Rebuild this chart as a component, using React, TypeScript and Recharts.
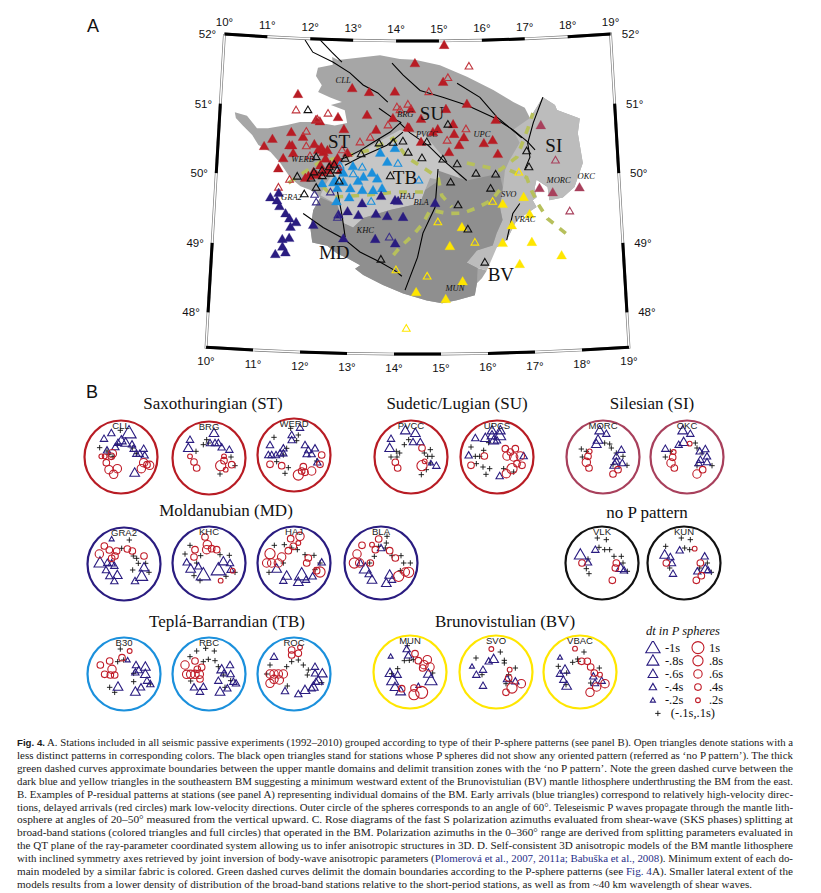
import * as React from "react";
import { ReferenceDot, Scatter, ScatterChart, XAxis, YAxis } from "recharts";

type LL = [number, number];
type Mark = [number, number, number];
type XY = [number, number];

// map ticks
const lonTicks = [10, 11, 12, 13, 14, 15, 16, 17, 18, 19];
const latTicks = [52, 51, 50, 49, 48];

// domains, [lon, lat]
const massifOutline: LL[] = [[12.52,51.75],[12.54,51.64],[12.2,51.59],[12.16,51.47],[12.3,51.34],[12.22,51.24],[12.5,51.17],[12.77,51.11],[12.52,51.06],[12.84,50.99],[12.9,50.81],[12.62,50.77],[12.17,50.81],[11.83,50.8],[11.54,50.75],[11.11,50.69],[10.86,50.68],[10.62,50.85],[10.34,50.89],[10.37,50.81],[10.53,50.71],[10.76,50.58],[10.91,50.44],[11.19,50.35],[11.42,50.2],[11.66,49.99],[11.89,49.88],[12.11,49.83],[12.34,49.73],[12.19,49.54],[12.14,49.28],[12.19,49.08],[12.52,49.04],[12.74,48.93],[12.96,48.87],[13.25,48.77],[13.14,48.72],[13.32,48.63],[13.75,48.49],[14.19,48.37],[14.7,48.27],[15.03,48.23],[15.35,48.27],[15.74,48.34],[15.79,48.51],[15.9,48.58],[16.01,48.69],[15.81,48.73],[15.58,48.81],[15.86,48.98],[16.24,49.02],[16.46,49.12],[16.69,49.4],[17.14,49.58],[17.06,49.68],[17.15,49.72],[17.11,49.85],[17.16,49.97],[17.4,49.86],[17.43,49.67],[17.73,49.7],[18.0,49.84],[18.21,50.18],[18.13,50.61],[18.19,50.82],[17.68,50.96],[17.64,51.03],[17.37,51.15],[17.06,50.86],[16.95,51.01],[16.69,51.1],[16.24,51.28],[15.64,51.48],[15.02,51.65],[14.44,51.73],[14.09,51.74],[13.63,51.79],[12.66,51.71]];
const silesianOutline: LL[] = [[17.06,50.86],[16.67,50.7],[16.81,50.51],[16.57,50.27],[16.46,50.12],[16.4,49.84],[16.33,49.59],[16.38,49.41],[16.24,49.22],[16.15,49.05],[15.8,48.98],[15.58,48.81],[15.81,48.73],[16.01,48.69],[16.24,49.02],[16.46,49.12],[16.69,49.4],[17.14,49.58],[17.06,49.68],[17.15,49.72],[17.11,49.85],[17.16,49.97],[17.4,49.86],[17.43,49.67],[17.73,49.7],[18.0,49.84],[18.21,50.18],[18.13,50.61],[18.19,50.82],[17.68,50.96],[17.64,51.03],[17.37,51.15]];
const barrandianOutline: LL[] = [[12.98,50.32],[14.1,50.72],[14.67,50.65],[15.51,49.99],[15,50],[14.78,50.03],[14.67,49.86],[14.56,49.67],[13.89,49.57],[13.3,49.45],[13.08,49.31],[12.86,49.37],[12.72,49.63],[12.34,49.76],[12.44,49.91],[12.65,50.13]];
const moldanubianOutline: LL[] = [[12.34,49.73],[12.19,49.54],[12.14,49.28],[12.19,49.08],[12.52,49.04],[12.74,48.93],[12.96,48.87],[13.25,48.77],[13.14,48.72],[13.32,48.63],[13.75,48.49],[14.19,48.37],[14.7,48.27],[15.03,48.23],[15.35,48.27],[15.74,48.34],[15.79,48.51],[15.81,48.73],[15.58,48.81],[15.8,48.98],[16.15,49.05],[16.24,49.22],[16.38,49.41],[16.33,49.59],[16.4,49.88],[16.34,50.08],[15.6,49.99],[14.96,50.14],[15,50],[14.67,49.86],[14.56,49.67],[13.89,49.57],[13.3,49.45],[13.08,49.31],[12.86,49.37],[12.72,49.63]];

// faults
const faults: LL[][] = [
  [[11.88,51.98],[12.07,51.81],[12.54,51.68],[12.94,51.53],[13.25,51.36],[13.59,51.25],[13.82,51.12]],
  [[12.23,51.99],[12.51,51.82],[12.75,51.68]],
  [[13.91,51.68],[14.17,51.51],[14.56,51.29],[15.08,51.19],[15.63,51.07],[16.22,50.89],[16.67,50.7],[16.99,50.52],[17.15,50.4]],
  [[15.41,51.39],[15.93,51.18],[16.31,50.89],[16.86,50.58]],
  [[17.37,51.15],[17.13,50.79],[16.99,50.5],[17.03,50.3],[16.9,50.12]],
  [[13.62,51.03],[13.94,50.89],[14.12,50.83],[13.88,50.69],[13.5,50.54],[13.21,50.42],[12.92,50.32],[12.7,50.27]],
  [[14.1,50.82],[14.33,50.68],[14.74,50.5],[15.07,50.29],[15.6,49.99]],
  [[14.17,50.69],[13.81,50.5],[13.21,50.32],[12.87,50.2]],
  [[12.71,49.84],[12.83,49.48],[12.91,49.17]],
  [[11.97,49.49],[12.42,49.3],[12.87,49.15],[13.24,48.96],[13.68,48.82],[14.01,48.7],[14.16,48.62]],
  [[14.96,50.16],[14.89,49.61],[14.62,49.24],[14.5,48.89],[14.23,48.42]],
  [[16.77,49.64],[16.61,49.5],[16.46,49.12]],
];

// thick green dashed curves
const transitionCurves: LL[][] = [
  [[11.62,49.92],[12.31,50.24],[12.83,50.32],[13.43,50.43],[13.95,50.6],[14.26,50.33],[14.6,50.19],[14.96,50.04],[15.04,49.78],[15.26,49.61]],
  [[15.61,50.24],[16.35,50.13],[16.74,50.31],[17.01,50.72],[17.13,50.93]],
  [[16.33,49.84],[16.15,49.7],[15.84,49.6],[15.5,49.52],[15.17,49.52],[14.78,49.57],[14.62,49.38],[14.4,49.21],[14.12,49.04],[13.97,48.92]],
  [[16.57,50.12],[16.94,50.01],[17.04,49.82],[17.17,49.63],[17.37,49.41],[17.63,49.26],[17.87,49.12]],
  [[12.4,49.88],[12.63,49.74],[13.38,49.78],[14.04,49.83],[14.71,49.83]],
];

// stations
const redFilled: LL[] = [[11.76,51.2],[13.0,51.31],[13.39,51.26],[13.98,51.27],[14.44,51.68],[12.69,50.89],[13.35,50.93],[13.94,50.89],[12.28,50.82],[12.19,50.84],[12.83,50.72],[14.28,50.76],[11.22,50.54],[11.64,50.65],[11.91,50.59],[11.04,50.43],[11.67,50.46],[11.61,50.46],[12.17,50.49],[12.33,50.45],[11.7,50.35],[11.48,50.27],[11.38,50.12],[12.38,50.38],[12.47,50.41],[12.26,50.41],[12.7,50.3],[12.92,50.38],[13.56,50.72],[11.99,50.0],[12.43,50.29],[12.54,50.2],[12.32,50.19],[12.17,50.09],[12.06,50.03],[12.24,50.05],[12.5,50.12],[12.65,50.24],[12.37,50.09],[12.77,50.13],[15.12,51.94],[15.09,51.41],[14.35,51.02],[15.15,51.02],[14.58,50.88],[15.63,51.09],[16.28,50.85],[14.31,50.75],[15.31,50.8],[14.96,50.73],[14.85,50.69],[15.33,50.66],[15.55,50.61],[14.58,50.55],[15.44,50.5],[16.0,50.52],[16.2,50.56],[15.21,50.4],[16.31,50.36]];
const redOpen: LL[] = [[11.73,50.97],[12.46,50.94],[12.22,50.85],[11.98,50.67],[11.99,50.46],[14.03,51.05],[14.1,51.01],[14.28,51.09],[13.83,50.79],[13.2,50.54],[13.43,50.61],[12.8,50.42],[12.08,50.32],[11.64,49.97],[11.4,49.85],[15.69,51.63],[15.2,51.47],[14.76,51.27],[15.6,50.73],[15.17,50.57]];
const silesianFilled: LL[] = [[17.3,50.75],[17.22,49.85],[17.51,49.78],[18.11,49.83]];
const silesianOpen: LL[] = [[17.6,50.24],[17.87,49.5]];
const blackOpen: LL[] = [[12.0,50.98],[12.22,50.31],[12.87,50.3],[12.63,50.21],[12.52,50.17],[12.36,50.12],[12.18,50.09],[11.81,50.02],[12.12,50.0],[12.7,50.13],[12.37,50.04],[12.55,50.08],[12.24,49.87],[11.98,49.77],[12.75,49.97],[13.23,50.37],[13.63,50.53],[13.95,50.54],[14.17,50.56],[14.29,50.4],[13.89,50.06],[15.19,50.8],[14.71,50.55],[14.6,50.32],[15.07,50.3],[15.39,50.23],[15.81,50.09],[16.25,50.07],[15.24,49.97],[16.13,49.87],[16.96,50.39],[17.0,50.16],[15.4,49.64],[15.61,49.29],[15.97,48.81],[13.7,48.86]];
const blueFilled: LL[] = [[13.99,50.46],[13.66,50.39],[13.82,50.26],[13.05,50.19],[13.48,50.1],[12.84,50.09],[12.66,49.98],[13.29,50.04],[13.17,49.98],[12.84,49.96],[13.0,49.87],[13.27,49.85],[13.6,50.02],[12.37,49.93],[12.62,49.95],[13.71,49.88],[12.71,49.87],[13.51,49.85],[12.7,49.68],[12.98,49.74]];
const blueOpen: LL[] = [[12.76,50.2],[13.06,50.08],[13.26,50.18],[14.06,50.24],[14.53,50.0],[13.47,49.69]];
const navyFilled: LL[] = [[11.23,49.7],[11.38,49.66],[11.41,49.77],[11.44,49.58],[11.58,49.48],[11.67,49.41],[11.82,49.36],[11.7,49.29],[11.68,49.13],[11.53,49.11],[11.54,49.0],[11.39,48.89],[11.61,48.92],[12.2,49.33],[12.75,49.49],[12.95,49.54],[13.19,49.49],[13.27,49.66],[13.58,49.51],[13.83,49.48],[14.18,49.47],[13.69,49.77],[14,49.71],[14.07,49.7],[12.87,49.15],[13.57,49.15],[14.01,49.09],[14.89,49.67]];
const navyOpen: LL[] = [[12.21,49.77],[12.25,49.66],[12.56,49.81],[12.73,49.45],[13.88,49.18]];
const yellowFilled: LL[] = [[16.86,49.73],[16.39,49.64],[16.98,49.48],[16.58,49.33],[15.48,49.32],[15.21,49.05],[16.37,49.08],[17.01,49.08],[17.65,48.87],[16.73,48.77],[15.48,48.54],[14.47,48.39],[15.11,48.29]];
const yellowOpen: LL[] = [[16.17,49.68],[14.95,49.4],[15.76,49.1],[14.71,48.62],[14.26,47.87],[14.03,48.71],[16.77,50.09]];

const stationNames: { name: string; at: LL }[] = [
  { name: "CLL", at: [12.79, 51.38] }, { name: "BRG", at: [14.22, 50.91] }, { name: "PVCC", at: [14.71, 50.62] },
  { name: "UPC", at: [15.96, 50.61] }, { name: "WERD", at: [11.93, 50.23] }, { name: "GRA2", at: [11.7, 49.67] },
  { name: "HAJ", at: [14.27, 49.73] }, { name: "BLA", at: [14.58, 49.64] }, { name: "KHC", at: [13.35, 49.23] },
  { name: "MUN", at: [15.31, 48.4] }, { name: "SVO", at: [16.53, 49.74] }, { name: "VRAC", at: [16.87, 49.37] },
  { name: "MORC", at: [17.65, 49.91] }, { name: "OKC", at: [18.27, 49.94] },
];
const domainNames: { name: string; at: LL }[] = [
  { name: "ST", at: [12.73, 50.45] }, { name: "SU", at: [14.83, 50.86] }, { name: "TB", at: [14.22, 49.94] },
  { name: "MD", at: [12.68, 48.85] }, { name: "BV", at: [16.31, 48.53] }, { name: "SI", at: [17.57, 50.36] },
];

// P spheres: [x, y, |dt| s] on a sphere of radius 111, y downward; crosses are [x, y]
const cllTri: Mark[] = [[24,-73,1],[-29,-72,.4],[-51,-55,.4],[1,-50,.6],[14,-43,.6],[-9,-43,.4],[33,-38,.4],[-17,-30,.4],[-42,-20,.4],[38,-25,.4],[68,-25,.4],[46,-10,.4],[56,-10,.4],[71,-5,.4],[41,47,.6]];
const cllCirc: Mark[] = [[-59,-2,.2],[-49,-2,.2],[-26,-10,.6],[-29,-2,.4],[-44,17,.4],[-36,38,.6],[-11,35,.6],[-22,52,.6],[61,35,.6],[68,17,.6],[86,25,.6],[78,23,.4]];
const cllPlus: XY[] = [[-64,-28],[-2,-80],[-42,-18],[-11,-37],[34,-27],[-24,-2],[46,-10],[-36,-8]];
const brgTri: Mark[] = [[15,-75,.6],[-57,-55,.4],[-62,-30,.6],[3,-45,.4],[18,-45,.4],[28,-45,.4],[38,-32,.4],[61,-25,.4]];
const brgCirc: Mark[] = [[-57,-5,.2],[-45,12,.4],[-37,30,.4],[45,-5,.2],[45,8,.4],[35,23,.8],[68,20,.4],[50,35,.2]];
const brgPlus: XY[] = [[-7,-55],[-2,-45],[-17,-40],[-39,-20],[66,-3],[78,23],[33,48]];
const werdTri: Mark[] = [[18,-82,.4],[-72,-30,.4],[-7,-60,.4],[-7,-45,.4],[-32,-20,.4],[-42,-5,.4],[-77,0,.4],[-67,0,.4],[-54,0,.4],[-32,-5,.4],[33,-30,.4],[43,-15,.4],[63,-20,.4],[53,-3,.4],[38,-3,.4],[70,22,.4]];
const werdCirc: Mark[] = [[83,0,.4],[-72,28,.4],[-37,32,.4],[28,35,.4],[53,48,.6],[33,52,.4],[13,60,.8],[23,48,.4],[78,28,.4]];
const werdPlus: XY[] = [[-60,-53],[-10,-80],[13,-60],[-22,-20],[8,-43],[-52,20],[-17,38],[-27,55],[68,18],[-32,0]];
const pvccTri: Mark[] = [[-17,-80,.6],[13,-72,.6],[-60,-55,.4],[-64,-27,.6],[6,-45,.4],[28,-45,.4],[60,18,.2],[76,26,.4]];
const pvccCirc: Mark[] = [[33,-27,.4],[-47,16,.4],[-40,33,.4],[33,26,.8],[41,13,.2]];
const pvccPlus: XY[] = [[-7,-52],[-20,-37],[-44,-17],[-34,-12],[-60,0],[-42,0],[40,-12],[58,-22],[50,-2],[63,-2],[58,18],[46,38],[31,53]];
const upcsTri: Mark[] = [[-15,-80,.6],[10,-80,.6],[-65,-57,.4],[-35,-57,.6],[8,-65,.8],[-15,-65,.6],[-10,-50,.6],[-85,-5,.4],[80,-3,.4],[8,57,.4],[0,-50,.4]];
const upcsCirc: Mark[] = [[25,-25,.4],[55,-25,.4],[40,-15,.4],[30,-3,.6],[50,0,.6],[70,-3,.6],[-38,-3,.4],[-78,25,.4],[60,20,.4],[75,25,.4],[45,35,.8],[28,50,.6]];
const upcsPlus: XY[] = [[-78,-30],[-25,-43],[-40,-20],[-65,-2],[-52,-2],[-62,20],[-42,30],[-22,35],[-33,52],[20,35],[50,45]];
const morcTri: Mark[] = [[-10,-80,.6],[10,-70,.4],[-15,-52,.6],[-20,-39,.6],[55,-22,.4],[40,-2,.4],[40,13,.4],[35,23,.6],[58,18,.4]];
const morcCirc: Mark[] = [[-40,-17,.2],[-45,-2,.4],[-50,16,.6],[-42,33,.4],[45,38,.4],[30,51,.4]];
const morcPlus: XY[] = [[-65,-24],[-50,-17],[-62,0],[5,-42],[20,-39],[25,-27],[40,-12],[60,-2],[30,23],[72,25]];
const okcTri: Mark[] = [[-13,-80,.6],[10,-70,.4],[-65,-25,.4],[-10,-45,.6],[-25,-37,.4],[55,-24,.4],[38,-17,.4],[60,-2,.4],[40,8,.4],[60,15,.4],[35,18,.4]];
const okcCirc: Mark[] = [[8,-40,.2],[-40,-15,.2],[-43,1,.4],[-48,18,.6],[-38,33,.4],[47,38,.4],[30,51,.6]];
const okcPlus: XY[] = [[-65,0],[-50,-17],[25,-42],[30,-27],[45,-12],[30,26],[75,26]];
const gra2Tri: Mark[] = [[-37,-75,.2],[-72,-4,.8],[-50,-4,.4],[-37,-2,.4],[-29,5,.4],[-54,18,.4],[-44,36,.4],[-20,33,.6],[-29,51,.4],[33,51,.4],[53,36,.8],[60,10,.6]];
const gra2Circ: Mark[] = [[-59,-54,.4],[-44,-42,.4],[-74,-30,.6],[-22,-39,.4],[10,-45,.4],[25,-39,.4],[-27,-24,.4],[-37,-17,.4],[60,-24,.4]];
const gra2Plus: XY[] = [[16,-72],[-7,-47],[28,-24],[38,-17],[43,-2],[65,-2],[26,18],[75,25]];
const khcTri: Mark[] = [[-17,35,1],[28,20,1],[-67,-2,.4],[-55,17,.6],[-32,10,.4],[43,-5,.6],[63,0,.4],[65,20,.4]];
const khcCirc: Mark[] = [[-12,-78,.4],[-42,-40,.4],[-5,-55,.6],[-7,-40,.6],[8,-43,.4],[23,-40,.4],[-45,-18,.4],[71,23,.2],[35,53,.2]];
const khcPlus: XY[] = [[-57,-53],[-72,-27],[-25,-22],[-37,0],[33,-25],[61,-23],[-45,38],[-27,53],[51,40],[78,28]];
const hajTri: Mark[] = [[-52,17,.6],[-22,38,.6],[-32,53,.4],[23,35,1],[13,57,.6],[36,50,.4],[56,40,.4],[83,-2,.4]];
const hajCirc: Mark[] = [[18,-80,.6],[-10,-73,.4],[13,-60,.2],[-17,-37,.4],[-37,-18,.6],[-72,-28,.8],[-82,0,.6],[-67,0,.6],[-47,0,.6],[-2,-50,.4],[43,-15,.4],[38,0,.4],[78,27,.8],[68,23,.4]];
const hajPlus: XY[] = [[-59,-53],[-29,-55],[-7,-45],[10,-40],[33,-25],[60,-23],[-32,0],[-75,28],[63,20],[78,0]];
const blaTri: Mark[] = [[-47,17,.8],[-62,0,.4],[-27,50,.6],[16,60,.6],[26,35,.6],[33,50,.4],[0,-45,.4],[-37,33,.4]];
const blaCirc: Mark[] = [[-7,-72,.4],[-57,-53,.4],[-27,-55,.2],[-17,-40,.4],[26,-37,.4],[-72,-27,.6],[-80,0,.8],[-64,0,.6],[-32,0,.4],[43,-15,.4],[53,40,.8],[83,28,.8],[73,27,.6]];
const blaPlus: XY[] = [[18,-80],[16,-60],[-7,-50],[13,-45],[-20,-20],[-34,0],[33,-22],[60,-22],[68,0],[88,0],[58,23]];
const vlkTri: Mark[] = [[-65,-25,.8],[-20,-40,.4],[-42,-2,.4],[56,15,.6],[66,22,.4]];
const vlkCirc: Mark[] = [[-60,0,.4],[43,0,.4],[40,15,.4],[31,52,.4]];
const vlkPlus: XY[] = [[13,-70],[-14,-75],[-9,-47],[8,-40],[23,-40],[36,-20],[58,-20],[63,0],[76,25],[-42,-12],[-47,17],[-39,32]];
const kunTri: Mark[] = [[-58,-25,.6],[-41,-18,.4],[-36,0,.4],[-33,32,.4],[-13,-38,.4],[62,-20,.4],[64,18,.6],[40,25,.4],[72,22,.4]];
const kunCirc: Mark[] = [[32,-43,.2],[-53,0,.4],[49,0,.4],[52,38,.4],[37,52,.4]];
const kunPlus: XY[] = [[-55,-50],[19,-70],[-8,-75],[2,-45],[17,-40],[70,0],[82,28],[-43,15],[47,15]];
const b30Tri: Mark[] = [[64,-22,.6],[11,-42,.2],[36,-27,.4],[44,-12,.4],[34,-5,.4],[64,0,.6],[69,20,.4],[79,30,.4],[-18,38,.6],[51,40,.4],[34,53,.6]];
const b30Circ: Mark[] = [[17,-69,.2],[-6,-49,.4],[-43,-39,.4],[-71,-27,.4],[-36,-14,.6],[-58,1,.4],[-41,3,.4],[-28,3,.4]];
const b30Plus: XY[] = [[-11,-75],[-19,-37],[-1,-42],[29,-2],[29,23],[-43,40],[-28,55],[79,30]];
const rbcTri: Mark[] = [[63,-27,.4],[38,-14,.6],[45,-2,.4],[65,0,.4],[28,20,.4],[-45,40,.4],[-17,38,.4],[-27,53,.4],[33,53,.6],[55,43,.4],[73,23,.4],[81,28,.4]];
const rbcCirc: Mark[] = [[-72,-27,.6],[-42,-39,.4],[-67,1,.6],[-55,1,.6],[-42,1,.6],[-29,1,.6],[-22,-20,.4],[-35,-14,.4],[-27,15,.4]];
const rbcPlus: XY[] = [[-37,-69],[-10,-77],[16,-69],[-57,-52],[-17,-37],[-2,-44],[18,-40],[28,-22],[43,3],[-55,21],[65,20],[48,40]];
const rocTri: Mark[] = [[-60,-52,.4],[63,-22,.4],[85,-2,.6],[63,-2,.4],[73,20,.6],[58,38,.6],[33,48,.6],[13,60,.4],[-27,51,.4],[53,43,.4],[66,23,.4]];
const rocCirc: Mark[] = [[-7,-72,.4],[18,-80,.2],[-7,-57,.4],[13,-62,.4],[-72,0,.6],[-60,0,.6],[-47,0,.6],[-32,0,.6],[-60,16,.6],[-44,18,.6],[-72,28,.6]];
const rocPlus: XY[] = [[-72,-27],[-22,-22],[-7,-37],[13,-42],[28,-27],[43,-12],[40,3],[83,26],[-20,36],[-82,0]];
const munTri: Mark[] = [[-58,-47,.2],[-10,-69,.4],[-5,-50,.4],[-60,3,.6],[-37,8,.4],[-52,25,.8],[-45,45,.6],[-28,58,.6],[25,41,.2],[63,25,.8],[55,5,.6]];
const munCirc: Mark[] = [[15,-55,.4],[25,-34,.4],[52,-37,.6],[42,-22,.6],[60,-15,.6],[38,-12,.4],[-25,50,.4],[12,48,.4],[12,68,.8],[35,61,1]];
const munPlus: XY[] = [[-8,-79],[-17,-34],[-2,-35],[10,-37],[-37,-10],[-55,5],[68,3]];
const svoTri: Mark[] = [[-22,-32,.4],[-7,-39,.6],[-72,-17,.2],[-39,-7,.4],[-59,8,.4],[-39,41,.4],[58,28,.4],[33,21,.4]];
const svoCirc: Mark[] = [[-14,-69,.2],[41,-7,.2],[38,18,.4],[76,35,.6],[48,48,.8],[30,61,.4]];
const svoPlus: XY[] = [[13,-60],[-60,-42],[25,-35],[58,-12],[25,-27],[38,8],[-42,8],[41,28],[30,35]];
const vbacTri: Mark[] = [[-60,-44,.2],[-45,-7,.6],[-60,5,.4],[-50,23,.4],[-40,41,.6],[40,13,.4],[45,33,.4],[65,26,.4]];
const vbacCirc: Mark[] = [[-15,-70,.2],[5,-32,.4],[22,-32,.4],[32,-15,.4],[43,3,.4],[60,8,.2],[75,35,.6],[50,45,.6],[30,61,.6]];
const vbacPlus: XY[] = [[12,-60],[-65,-17],[-7,-39],[-22,-29],[-5,-32],[58,-12],[-40,3],[-42,38],[32,33]];

const legendDt = [1, 0.8, 0.6, 0.4, 0.2];
const legendTriLabels = ["-1s", "-.8s", "-.6s", "-.4s", "-.2s"];
const legendCircLabels = ["1s", ".8s", ".6s", ".4s", ".2s"];

const captionLines = [
  "Stations included in all seismic passive experiments (1992–2010) grouped according to type of their P-sphere patterns (see panel B). Open triangles denote stations with a",
  "less distinct patterns in corresponding colors. The black open triangles stand for stations whose P spheres did not show any oriented pattern (referred as ‘no P pattern’). The thick",
  "green dashed curves approximate boundaries between the upper mantle domains and delimit transition zones with the ‘no P pattern’. Note the green dashed curve between the",
  "dark blue and yellow triangles in the southeastern BM suggesting a minimum westward extent of the Brunovistulian (BV) mantle lithosphere underthrusting the BM from the east.",
  "B. Examples of P-residual patterns at stations (see panel A) representing individual domains of the BM. Early arrivals (blue triangles) correspond to relatively high-velocity direc-",
  "tions, delayed arrivals (red circles) mark low-velocity directions. Outer circle of the spheres corresponds to an angle of 60°. Teleseismic P waves propagate through the mantle lith-",
  "osphere at angles of 20–50° measured from the vertical upward. C. Rose diagrams of the fast S polarization azimuths evaluated from shear-wave (SKS phases) splitting at",
  "broad-band stations (colored triangles and full circles) that operated in the BM. Polarization azimuths in the 0–360° range are derived from splitting parameters evaluated in",
  "the QT plane of the ray-parameter coordinated system allowing us to infer anisotropic structures in 3D. D. Self-consistent 3D anisotropic models of the BM mantle lithosphere",
];

const RED = "#b81c24", PLUM = "#a8405c", NAVY = "#2a1c80", BLUE = "#1b90dc", YELLOW = "#ffe600", BLACK = "#111111";
const SANS = "'Liberation Sans', sans-serif";
const SERIF = "'Liberation Serif', serif";

// conic-looking projection of the map, fitted to the graticule
const project = ([lon, lat]: LL) => {
  const d = lon - 14.5;
  const s = 52 - lat;
  return { x: 417.5 + d * (42.9 + 0.91 * s), y: 41 + s * 69.6 - 0.346 * d * d };
};

const none = () => <g />;

const triangle = (cx: number, cy: number, w: number) =>
  `M${cx},${cy - w * 0.55}L${cx + w * 0.55},${cy + w * 0.4}L${cx - w * 0.55},${cy + w * 0.4}Z`;

const mapLine = (pts: LL[], key: string, style: any) => (
  <Scatter key={key} data={pts.map(project)} isAnimationActive={false} shape={none} line={style} />
);

const stationScatter = (pts: LL[], key: string, color: string, open: boolean) => (
  <Scatter
    key={key}
    data={pts.map(project)}
    isAnimationActive={false}
    shape={(p: any) => (
      <path
        d={triangle(p.cx, p.cy, open ? 7 : 9)}
        fill={open ? "none" : color}
        stroke={color}
        strokeWidth={open ? 1.1 : 0.3}
      />
    )}
  />
);

const textScatter = (items: { name: string; at: LL }[], key: string, style: any) => (
  <Scatter
    key={key}
    data={items.map((it) => ({ ...project(it.at), name: it.name }))}
    isAnimationActive={false}
    shape={(p: any) => (
      <text x={p.cx} y={p.cy} textAnchor="middle" {...style}>
        {p.payload.name}
      </text>
    )}
  />
);

const tickScatter = (pts: LL[], dx: number, dy: number, key: string) => (
  <Scatter
    key={key}
    data={pts.map((pt) => ({ ...project(pt), name: pt }))}
    isAnimationActive={false}
    shape={(p: any) => {
      const [lon, lat] = p.payload.name;
      const label = dx === 0 ? lon : lat;
      return (
        <text x={p.cx + dx} y={p.cy + dy} textAnchor="middle" fontFamily={SANS} fontSize={11.5} fill="#111">
          {label}°
        </text>
      );
    }}
  />
);

const segments = (ticks: number[], fixed: number, isLon: boolean, first: number) =>
  ticks.slice(0, -1).flatMap((t, i) =>
    i % 2 === first ? [isLon ? ([[t, fixed], [ticks[i + 1], fixed]] as LL[]) : ([[fixed, t], [fixed, ticks[i + 1]]] as LL[])] : []
  );

function MapChart() {
  const frame: LL[] = [
    ...lonTicks.map((l) => [l, 52] as LL),
    ...[51, 50, 49, 48, 47.5].map((l) => [19, l] as LL),
    ...[...lonTicks].reverse().map((l) => [l, 47.5] as LL),
    ...[48, 49, 50, 51, 52].map((l) => [10, l] as LL),
  ];
  const blackEdges = [
    ...segments(lonTicks, 52, true, 0),
    ...segments(lonTicks, 47.5, true, 0),
    ...segments(latTicks, 10, false, 1),
    ...segments(latTicks, 19, false, 1),
  ];
  return (
    <ScatterChart width={821} height={400} margin={{ top: 0, right: 0, bottom: 0, left: 0 }}>
      <XAxis type="number" dataKey="x" domain={[0, 821]} hide />
      <YAxis type="number" dataKey="y" domain={[0, 400]} reversed hide />
      {mapLine(massifOutline, "massif", { fill: "#a6a6a6", stroke: "none" })}
      {mapLine(silesianOutline, "si", { fill: "#bcbcbc", stroke: "none" })}
      {mapLine(barrandianOutline, "tb", { fill: "#c6c6c6", stroke: "none" })}
      {mapLine(moldanubianOutline, "md", { fill: "#8f8f8f", stroke: "none" })}
      {transitionCurves.map((c, i) =>
        mapLine(c, "curve" + i, { stroke: "#b7c05c", strokeWidth: 3.6, strokeDasharray: "8 8", fill: "none" })
      )}
      {faults.map((f, i) => mapLine(f, "fault" + i, { stroke: "#000", strokeWidth: 1.1, fill: "none" }))}
      {mapLine(frame, "frameOuter", { stroke: "#777", strokeWidth: 2.8, fill: "none" })}
      {mapLine(frame, "frameInner", { stroke: "#fff", strokeWidth: 1.5, fill: "none" })}
      {blackEdges.map((e, i) => mapLine(e, "edge" + i, { stroke: "#000", strokeWidth: 3, fill: "none" }))}
      {stationScatter(redFilled, "rf", RED, false)}
      {stationScatter(redOpen, "ro", "#c0353c", true)}
      {stationScatter(silesianFilled, "sf", PLUM, false)}
      {stationScatter(silesianOpen, "so", PLUM, true)}
      {stationScatter(blueFilled, "bf", BLUE, false)}
      {stationScatter(blueOpen, "bo", BLUE, true)}
      {stationScatter(navyFilled, "nf", NAVY, false)}
      {stationScatter(navyOpen, "no", "#3a2f88", true)}
      {stationScatter(yellowFilled, "yf", YELLOW, false)}
      {stationScatter(yellowOpen, "yo", YELLOW, true)}
      {stationScatter(blackOpen, "ko", BLACK, true)}
      {textScatter(stationNames, "names", { fontFamily: SERIF, fontStyle: "italic", fontSize: 8.5, fill: "#111" })}
      {textScatter(domainNames, "domains", { fontFamily: SERIF, fontSize: 19, fill: "#111" })}
      {tickScatter(lonTicks.map((l) => [l, 52] as LL), 0, -8, "topTicks")}
      {tickScatter(lonTicks.map((l) => [l, 47.5] as LL), 0, 18, "bottomTicks")}
      {tickScatter(latTicks.map((l) => [10, l] as LL), -17, 4, "leftTicks")}
      {tickScatter(latTicks.map((l) => [19, l] as LL), 20, 4, "rightTicks")}
    </ScatterChart>
  );
}

const triWidth = (dt: number) => 2.5 + 10.5 * dt;
const circR = (dt: number) => 1.5 + 4.5 * dt;

const triShape = (p: any) => (
  <path d={triangle(p.cx, p.cy, triWidth(p.payload.dt))} fill="none" stroke={NAVY} strokeWidth={1.1} />
);
const circShape = (p: any) => <circle cx={p.cx} cy={p.cy} r={circR(p.payload.dt)} fill="none" stroke="#c01c28" strokeWidth={1.1} />;
const plusShape = (p: any) => (
  <path d={`M${p.cx - 2.7},${p.cy}H${p.cx + 2.7}M${p.cx},${p.cy - 2.7}V${p.cy + 2.7}`} stroke="#111" strokeWidth={0.9} />
);

const toDt = (rows: Mark[]) => rows.map(([x, y, dt]) => ({ x, y, dt }));

function Sphere({ name, color, left, top, tri, circ, plus }: any) {
  return (
    <div style={{ position: "absolute", left: left - 40, top: top - 40 }}>
      <ScatterChart width={80} height={80} margin={{ top: 0, right: 0, bottom: 0, left: 0 }}>
        <XAxis type="number" dataKey="x" domain={[-120, 120]} hide />
        <YAxis type="number" dataKey="y" domain={[-120, 120]} reversed hide />
        <ReferenceDot x={0} y={0} r={36.5} fill="#fff" stroke={color} strokeWidth={2.2} />
        <Scatter data={plus.map(([x, y]: XY) => ({ x, y }))} isAnimationActive={false} shape={plusShape} />
        <Scatter data={toDt(tri)} isAnimationActive={false} shape={triShape} />
        <Scatter data={toDt(circ)} isAnimationActive={false} shape={circShape} />
        <Scatter
          data={[{ x: 0, y: -96 }]}
          isAnimationActive={false}
          shape={(p: any) => (
            <text x={p.cx} y={p.cy + 3.5} textAnchor="middle" fontFamily={SANS} fontSize={9.5} fill="#222">
              {name}
            </text>
          )}
        />
      </ScatterChart>
    </div>
  );
}

const spheres = [
  { name: "CLL", color: RED, left: 121, top: 457, tri: cllTri, circ: cllCirc, plus: cllPlus },
  { name: "BRG", color: RED, left: 209, top: 458, tri: brgTri, circ: brgCirc, plus: brgPlus },
  { name: "WERD", color: RED, left: 294, top: 455, tri: werdTri, circ: werdCirc, plus: werdPlus },
  { name: "PVCC", color: RED, left: 411, top: 457, tri: pvccTri, circ: pvccCirc, plus: pvccPlus },
  { name: "UPCS", color: RED, left: 497, top: 457, tri: upcsTri, circ: upcsCirc, plus: upcsPlus },
  { name: "MORC", color: PLUM, left: 603, top: 457, tri: morcTri, circ: morcCirc, plus: morcPlus },
  { name: "OKC", color: PLUM, left: 687, top: 457, tri: okcTri, circ: okcCirc, plus: okcPlus },
  { name: "GRA2", color: NAVY, left: 124, top: 564, tri: gra2Tri, circ: gra2Circ, plus: gra2Plus },
  { name: "KHC", color: NAVY, left: 209, top: 563, tri: khcTri, circ: khcCirc, plus: khcPlus },
  { name: "HAJ", color: NAVY, left: 294, top: 563, tri: hajTri, circ: hajCirc, plus: hajPlus },
  { name: "BLA", color: NAVY, left: 381, top: 563, tri: blaTri, circ: blaCirc, plus: blaPlus },
  { name: "VLK", color: BLACK, left: 602, top: 563, tri: vlkTri, circ: vlkCirc, plus: vlkPlus },
  { name: "KUN", color: BLACK, left: 684, top: 563, tri: kunTri, circ: kunCirc, plus: kunPlus },
  { name: "B30", color: BLUE, left: 124, top: 674, tri: b30Tri, circ: b30Circ, plus: b30Plus },
  { name: "RBC", color: BLUE, left: 209, top: 674, tri: rbcTri, circ: rbcCirc, plus: rbcPlus },
  { name: "ROC", color: BLUE, left: 294, top: 674, tri: rocTri, circ: rocCirc, plus: rocPlus },
  { name: "MUN", color: YELLOW, left: 410, top: 672, tri: munTri, circ: munCirc, plus: munPlus },
  { name: "SVO", color: YELLOW, left: 496, top: 672, tri: svoTri, circ: svoCirc, plus: svoPlus },
  { name: "VBAC", color: YELLOW, left: 580, top: 672, tri: vbacTri, circ: vbacCirc, plus: vbacPlus },
];

const titles = [
  { text: "Saxothuringian (ST)", x: 213, y: 409 },
  { text: "Sudetic/Lugian (SU)", x: 457, y: 409 },
  { text: "Silesian (SI)", x: 652, y: 409 },
  { text: "Moldanubian (MD)", x: 226, y: 516 },
  { text: "no P pattern", x: 647, y: 518 },
  { text: "Teplá-Barrandian (TB)", x: 227, y: 627 },
  { text: "Brunovistulian (BV)", x: 505, y: 627 },
];

function LegendChart() {
  const triRows = legendDt.map((dt, i) => ({ x: 0, y: i, dt, label: legendTriLabels[i] }));
  const circRows = legendDt.map((dt, i) => ({ x: 1, y: i, dt, label: legendCircLabels[i] }));
  const label = (p: any, dx: number, text: string) => (
    <text x={p.cx + dx} y={p.cy + 4} fontFamily={SERIF} fontSize={12.5} fill="#111">
      {text}
    </text>
  );
  return (
    <ScatterChart width={100} height={79} margin={{ top: 0, right: 0, bottom: 0, left: 0 }}>
      <XAxis type="number" dataKey="x" domain={[-0.22, 2]} hide />
      <YAxis type="number" dataKey="y" domain={[-0.5, 5.5]} reversed hide />
      <Scatter
        data={triRows}
        isAnimationActive={false}
        shape={(p: any) => (
          <g>
            {triShape(p)}
            {label(p, 12, p.payload.label)}
          </g>
        )}
      />
      <Scatter
        data={circRows}
        isAnimationActive={false}
        shape={(p: any) => (
          <g>
            {circShape(p)}
            {label(p, 11, p.payload.label)}
          </g>
        )}
      />
      <Scatter
        data={[{ x: 0.11, y: 5, dt: 0 }]}
        isAnimationActive={false}
        shape={(p: any) => (
          <g>
            {plusShape(p)}
            {label(p, 13, "(-.1s,.1s)")}
          </g>
        )}
      />
    </ScatterChart>
  );
}

function Caption() {
  const capStyle = { fontFamily: SERIF, fontSize: 10.9, fill: "#1a1a1a" };
  const width = 776;
  return (
    <g style={capStyle as any}>
      <text x={17} y={746} textLength={width} lengthAdjust="spacingAndGlyphs">
        <tspan fontWeight={700} fontFamily={SANS} fontSize={9.8}>Fig. 4.</tspan> A. {captionLines[0]}
      </text>
      {captionLines.slice(1).map((line, i) => (
        <text key={i} x={17} y={746 + 12.9 * (i + 1)} textLength={width} lengthAdjust="spacingAndGlyphs">
          {line}
        </text>
      ))}
      <text x={17} y={746 + 12.9 * 9} textLength={width} lengthAdjust="spacingAndGlyphs">
        with inclined symmetry axes retrieved by joint inversion of body-wave anisotropic parameters (
        <tspan fill="#1f2f88">Plomerová et al., 2007, 2011a; Babuška et al., 2008</tspan>). Minimum extent of each do-
      </text>
      <text x={17} y={746 + 12.9 * 10} textLength={width} lengthAdjust="spacingAndGlyphs">
        main modeled by a similar fabric is colored. Green dashed curves delimit the domain boundaries according to the P-sphere patterns (see{" "}
        <tspan fill="#1f2f88">Fig. 4</tspan>A). Smaller lateral extent of the
      </text>
      <text x={17} y={746 + 12.9 * 11} textLength={735} lengthAdjust="spacingAndGlyphs">
        models results from a lower density of distribution of the broad-band stations relative to the short-period stations, as well as from ~40 km wavelength of shear waves.
      </text>
    </g>
  );
}

export default function App() {
  return (
    <div style={{ position: "absolute", left: 0, top: 0, width: 821, height: 893, background: "#fff", overflow: "hidden" }}>
      <div style={{ position: "absolute", left: 0, top: 0 }}>
        <MapChart />
      </div>
      {spheres.map((s) => (
        <Sphere key={s.name} {...s} />
      ))}
      <div style={{ position: "absolute", left: 643, top: 641 }}>
        <LegendChart />
      </div>
      <svg width={821} height={893} style={{ position: "absolute", left: 0, top: 0, pointerEvents: "none" }}>
        <text x={87} y={32} fontFamily={SANS} fontSize={18} fill="#111">A</text>
        <text x={86} y={398} fontFamily={SANS} fontSize={18} fill="#111">B</text>
        {titles.map((t) => (
          <text key={t.text} x={t.x} y={t.y} textAnchor="middle" fontFamily={SERIF} fontSize={17} fill="#111">
            {t.text}
          </text>
        ))}
        <text x={646} y={635} fontFamily={SERIF} fontStyle="italic" fontSize={12.5} fill="#111">dt in P spheres</text>
        <Caption />
      </svg>
    </div>
  );
}
